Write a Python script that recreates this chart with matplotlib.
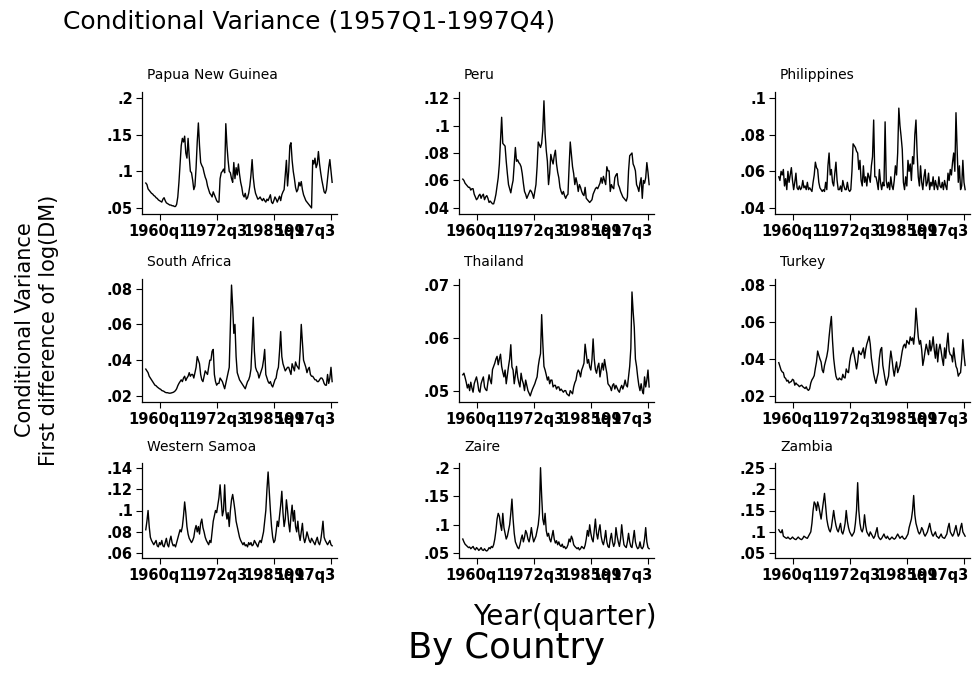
import numpy as np
import matplotlib.pyplot as plt

# quarterly conditional variance, 1957q1 .. 1997q4 (164 obs per country)
countries = ["Papua New Guinea", "Peru", "Philippines",
             "South Africa", "Thailand", "Turkey",
             "Western Samoa", "Zaire", "Zambia"]

papua = [
    .084, .082, .076, .074, .072, .070, .069, .067,
    .066, .064, .063, .061, .060, .059, .058, .062,
    .064, .060, .057, .056, .055, .054, .054, .053,
    .053, .052, .052, .055, .065, .085, .110, .135,
    .145, .140, .148, .125, .118, .145, .120, .100,
    .098, .088, .075, .080, .105, .140, .166, .135,
    .112, .108, .105, .098, .092, .088, .080, .075,
    .070, .068, .065, .072, .068, .064, .060, .058,
    .058, .090, .098, .100, .103, .098, .165, .135,
    .115, .100, .098, .090, .085, .112, .090, .105,
    .095, .110, .096, .085, .078, .068, .065, .070,
    .062, .064, .070, .080, .095, .116, .092, .078,
    .070, .066, .062, .063, .065, .062, .060, .063,
    .060, .058, .062, .060, .064, .068, .058, .056,
    .060, .065, .062, .058, .062, .066, .060, .068,
    .072, .075, .095, .115, .080, .100, .135, .139,
    .115, .100, .090, .078, .072, .075, .085, .080,
    .086, .075, .068, .064, .060, .058, .056, .054,
    .052, .050, .115, .110, .118, .105, .110, .127,
    .110, .098, .088, .080, .072, .070, .075, .090,
    .105, .116, .100, .085]

peru = [
    .061, .060, .058, .057, .056, .055, .055, .053,
    .054, .054, .050, .048, .046, .047, .049, .050,
    .047, .049, .050, .046, .048, .049, .047, .044,
    .045, .044, .043, .043, .046, .050, .056, .062,
    .072, .089, .106, .087, .086, .085, .074, .065,
    .057, .054, .051, .056, .060, .072, .084, .074,
    .075, .073, .072, .070, .065, .058, .052, .050,
    .047, .049, .051, .053, .052, .050, .047, .052,
    .057, .070, .088, .086, .084, .087, .097, .118,
    .094, .082, .074, .057, .065, .079, .075, .072,
    .078, .082, .072, .066, .062, .055, .052, .050,
    .052, .049, .047, .049, .050, .070, .088, .079,
    .070, .065, .057, .062, .058, .052, .057, .055,
    .052, .050, .049, .055, .047, .046, .045, .044,
    .045, .046, .050, .052, .054, .055, .054, .056,
    .058, .062, .058, .063, .060, .057, .070, .067,
    .067, .052, .057, .055, .054, .062, .064, .065,
    .057, .055, .052, .050, .048, .047, .046, .045,
    .048, .067, .078, .079, .080, .072, .070, .067,
    .057, .055, .052, .058, .062, .047, .060, .058,
    .062, .073, .066, .057]

philippines = [
    .057, .055, .060, .058, .061, .052, .056, .050,
    .060, .054, .058, .062, .055, .050, .054, .059,
    .051, .050, .052, .050, .051, .055, .051, .052,
    .050, .054, .050, .051, .050, .049, .054, .058,
    .065, .062, .061, .054, .051, .050, .049, .050,
    .049, .054, .050, .063, .070, .058, .061, .054,
    .052, .059, .065, .055, .050, .050, .052, .049,
    .055, .052, .050, .050, .054, .050, .049, .050,
    .060, .075, .074, .073, .071, .070, .061, .066,
    .055, .052, .063, .054, .057, .052, .059, .057,
    .054, .063, .068, .088, .057, .057, .054, .050,
    .061, .054, .050, .054, .052, .087, .055, .051,
    .054, .050, .057, .052, .050, .055, .063, .058,
    .070, .0945, .085, .079, .072, .054, .050, .057,
    .052, .066, .060, .064, .055, .068, .064, .080,
    .088, .070, .057, .052, .063, .054, .050, .057,
    .061, .052, .054, .059, .050, .054, .052, .057,
    .050, .055, .052, .050, .057, .052, .051, .054,
    .050, .055, .052, .050, .059, .055, .061, .058,
    .065, .070, .060, .092, .072, .054, .063, .050,
    .052, .066, .054, .050]

south_africa = [
    .035, .034, .033, .031, .030, .029, .028, .027,
    .026, .0257, .025, .0245, .024, .0237, .023, .0228,
    .0225, .022, .0218, .0218, .0216, .0215, .0216, .0218,
    .022, .0224, .023, .024, .0257, .027, .028, .029,
    .028, .030, .031, .0286, .030, .031, .033, .031,
    .032, .032, .030, .033, .036, .042, .040, .038,
    .032, .029, .028, .031, .034, .033, .032, .036,
    .040, .040, .045, .046, .032, .028, .026, .027,
    .027, .030, .029, .028, .026, .024, .027, .030,
    .033, .036, .060, .082, .070, .055, .060, .042,
    .033, .031, .029, .028, .027, .026, .025, .024,
    .026, .028, .029, .031, .035, .050, .064, .045,
    .036, .034, .033, .030, .032, .034, .036, .040,
    .046, .032, .030, .028, .027, .028, .026, .025,
    .027, .029, .030, .034, .036, .045, .056, .042,
    .038, .036, .034, .035, .036, .036, .034, .032,
    .038, .036, .034, .039, .037, .036, .035, .045,
    .060, .050, .040, .038, .036, .033, .035, .036,
    .032, .031, .031, .030, .029, .029, .028, .028,
    .029, .030, .030, .029, .027, .026, .026, .032,
    .027, .030, .036, .028]

thailand = [
    .0530, .0533, .0525, .0516, .0505, .0512, .0500, .0516,
    .0505, .0497, .0513, .0520, .0526, .0515, .0500, .0497,
    .0513, .0520, .0526, .0507, .0502, .0500, .0516, .0530,
    .0520, .0513, .0540, .0546, .0552, .0560, .0565, .0549,
    .0560, .0569, .0546, .0535, .0526, .0539, .0513, .0530,
    .0546, .0560, .0587, .0545, .0539, .0513, .0530, .0546,
    .0526, .0515, .0507, .0533, .0520, .0513, .0500, .0520,
    .0510, .0500, .0495, .0490, .0497, .0503, .0508, .0513,
    .0520, .0526, .0546, .0560, .0570, .0644, .0590, .0546,
    .0539, .0530, .0520, .0526, .0513, .0520, .0520, .0507,
    .0510, .0510, .0503, .0507, .0507, .0500, .0503, .0500,
    .0497, .0500, .0500, .0494, .0492, .0490, .0500, .0497,
    .0494, .0507, .0515, .0520, .0533, .0539, .0535, .0526,
    .0539, .0545, .0552, .0588, .0570, .0552, .0559, .0545,
    .0539, .0559, .0598, .0560, .0540, .0533, .0545, .0552,
    .0526, .0540, .0552, .0539, .0559, .0545, .0533, .0513,
    .0510, .0507, .0500, .0510, .0513, .0503, .0510, .0505,
    .0500, .0497, .0505, .0510, .0503, .0510, .0520, .0510,
    .0507, .0526, .0546, .0580, .0687, .0650, .0620, .0560,
    .0546, .0526, .0510, .0500, .0513, .0500, .0494, .0526,
    .0507, .0520, .0539, .0507]

turkey = [
    .038, .036, .034, .033, .0326, .030, .0295, .028,
    .0285, .027, .0275, .0278, .029, .0285, .0258, .027,
    .0262, .0258, .025, .0255, .0258, .025, .0245, .024,
    .0249, .0235, .023, .0239, .027, .0287, .0297, .031,
    .035, .0384, .0443, .042, .040, .0384, .034, .0326,
    .0365, .039, .0414, .045, .052, .058, .063, .050,
    .0404, .035, .0307, .029, .0287, .0297, .029, .0287,
    .0317, .030, .0297, .0346, .033, .0326, .0384, .042,
    .0435, .0462, .042, .0385, .0346, .0384, .0443, .043,
    .0423, .044, .046, .0404, .045, .048, .050, .0523,
    .048, .0404, .036, .032, .029, .0268, .030, .0326,
    .0404, .045, .0462, .0365, .0326, .029, .0258, .0285,
    .0307, .0384, .0443, .040, .0346, .0307, .035, .0384,
    .0326, .0345, .0365, .0404, .0443, .047, .048, .046,
    .050, .049, .048, .052, .050, .0514, .048, .055,
    .0675, .060, .052, .048, .050, .045, .0365, .040,
    .0443, .048, .045, .0423, .050, .0443, .047, .052,
    .045, .0404, .048, .0384, .045, .048, .0443, .040,
    .0365, .046, .0404, .048, .054, .0443, .0423, .042,
    .0384, .046, .0404, .036, .0346, .0307, .0320, .0326,
    .040, .0505, .0423, .0365]

western_samoa = [
    .082, .090, .100, .085, .075, .072, .070, .068,
    .070, .072, .067, .066, .070, .068, .072, .067,
    .066, .070, .074, .068, .066, .072, .076, .070,
    .067, .068, .066, .070, .074, .078, .082, .080,
    .085, .095, .108, .098, .085, .078, .074, .072,
    .070, .072, .075, .082, .086, .080, .085, .078,
    .088, .092, .084, .080, .075, .072, .070, .068,
    .072, .070, .080, .090, .095, .100, .098, .105,
    .112, .124, .110, .095, .100, .124, .100, .092,
    .098, .085, .100, .110, .115, .108, .100, .090,
    .085, .080, .075, .072, .070, .068, .070, .067,
    .068, .066, .070, .068, .070, .067, .068, .072,
    .070, .068, .066, .070, .072, .070, .075, .080,
    .090, .100, .120, .136, .118, .100, .085, .075,
    .070, .072, .080, .090, .085, .095, .105, .118,
    .098, .085, .092, .110, .100, .088, .080, .095,
    .105, .090, .100, .085, .080, .090, .078, .072,
    .080, .088, .075, .070, .074, .080, .076, .072,
    .070, .074, .072, .070, .068, .072, .075, .070,
    .068, .072, .080, .090, .075, .072, .070, .068,
    .070, .072, .068, .067]

zaire = [
    .075, .070, .066, .064, .062, .060, .061, .058,
    .060, .062, .058, .056, .060, .058, .055, .057,
    .060, .056, .055, .058, .055, .054, .056, .060,
    .058, .062, .060, .065, .075, .090, .110, .120,
    .115, .100, .090, .120, .095, .085, .075, .080,
    .090, .100, .120, .145, .110, .085, .070, .065,
    .060, .058, .065, .075, .082, .070, .078, .090,
    .085, .075, .070, .080, .095, .080, .070, .075,
    .080, .090, .100, .120, .200, .150, .110, .100,
    .120, .090, .080, .085, .075, .070, .080, .090,
    .075, .068, .072, .065, .070, .064, .062, .066,
    .060, .062, .058, .060, .065, .075, .070, .080,
    .075, .065, .062, .060, .058, .060, .056, .058,
    .062, .060, .058, .064, .075, .090, .080, .100,
    .085, .075, .070, .090, .110, .085, .075, .090,
    .100, .080, .070, .065, .075, .090, .070, .062,
    .060, .075, .085, .070, .062, .068, .095, .080,
    .070, .062, .075, .100, .080, .065, .062, .060,
    .070, .085, .070, .062, .060, .075, .090, .070,
    .062, .058, .060, .070, .060, .058, .062, .075,
    .095, .070, .060, .058]

zambia = [
    .105, .100, .098, .105, .090, .088, .086, .085,
    .088, .085, .083, .085, .088, .085, .083, .082,
    .085, .088, .085, .083, .082, .085, .090, .088,
    .086, .085, .090, .095, .100, .120, .150, .170,
    .165, .150, .170, .160, .145, .130, .150, .170,
    .190, .160, .130, .115, .105, .100, .110, .130,
    .150, .130, .115, .105, .100, .110, .120, .100,
    .095, .105, .120, .150, .125, .110, .100, .095,
    .090, .095, .100, .120, .150, .215, .150, .120,
    .105, .100, .110, .140, .115, .100, .095, .090,
    .100, .095, .090, .085, .090, .100, .110, .090,
    .085, .082, .085, .090, .095, .088, .085, .090,
    .085, .082, .085, .088, .085, .083, .085, .090,
    .095, .090, .085, .088, .090, .085, .083, .085,
    .090, .095, .110, .120, .130, .150, .185, .140,
    .120, .110, .100, .095, .100, .110, .105, .095,
    .090, .095, .100, .110, .120, .105, .095, .090,
    .095, .100, .090, .088, .085, .090, .095, .088,
    .086, .085, .090, .095, .110, .120, .100, .095,
    .090, .095, .105, .115, .100, .090, .095, .110,
    .120, .100, .095, .090]

series = [papua, peru, philippines, south_africa, thailand, turkey,
          western_samoa, zaire, zambia]

yticks = [[.05, .1, .15, .2], [.04, .06, .08, .1, .12], [.04, .06, .08, .1],
          [.02, .04, .06, .08], [.05, .06, .07], [.02, .04, .06, .08],
          [.06, .08, .1, .12, .14], [.05, .1, .15, .2], [.05, .1, .15, .2, .25]]

xtick_pos = [1960.0, 1972.5, 1985.0, 1997.5]
xtick_lab = ["1960q1", "1972q3", "1985q1", "1997q3"]


def fmt(v):
    s = "%g" % v
    return s[1:] if s.startswith("0.") else s


W, H = 974, 694
plt.rcParams['font.family'] = ['DejaVu Sans']
fig = plt.figure(figsize=(W / 100, H / 100), dpi=100)
fig.patch.set_facecolor("white")

# panel geometry in pixels
col_left = [142, 459, 775]
row_top = [92, 279, 463]
row_bot = [214, 402, 558]
title_y = [75, 262, 447]
ax_w = 195
px_per_year = 4.573
x_lo = 1960.0 - 17.5 / px_per_year
x_hi = x_lo + ax_w / px_per_year

tick_font = dict(fontsize=10.5, fontweight="bold")

for k, (name, vals, ticks) in enumerate(zip(countries, series, yticks)):
    r, c = divmod(k, 3)
    left, top, bot = col_left[c], row_top[r], row_bot[r]
    ax = fig.add_axes([left / W, 1 - bot / H, ax_w / W, (bot - top) / H])
    v = np.array(vals)
    t = 1957 + np.arange(len(v)) / 4.0
    ax.plot(t, v, color="black", lw=1.0)

    lo = min(v.min(), ticks[0])
    hi = max(v.max(), ticks[-1])
    pad = 0.055 * (hi - lo)
    ax.set_ylim(lo - pad, hi + pad)
    ax.set_xlim(x_lo, x_hi)

    for side in ["top", "right"]:
        ax.spines[side].set_visible(False)
    for side in ["left", "bottom"]:
        ax.spines[side].set_linewidth(0.9)
        ax.spines[side].set_color("black")

    ax.set_yticks(ticks)
    ax.set_yticklabels([fmt(x) for x in ticks], **tick_font)
    ax.set_xticks(xtick_pos)
    ax.set_xticklabels([])
    ax.tick_params(axis="both", direction="out", length=4.5, width=0.8,
                   colors="black", pad=2)
    ax.patch.set_alpha(0)

    # quarter labels; the last one is pulled back inside the axis end
    for j, (xp, lab) in enumerate(zip(xtick_pos, xtick_lab)):
        last = j == len(xtick_pos) - 1
        ax.annotate(lab, xy=(xp, 0), xycoords=("data", "axes fraction"),
                    xytext=(5 if last else 0, -10), textcoords="offset pixels",
                    ha="right" if last else "center", va="top", **tick_font)

    fig.text((left + 5) / W, 1 - title_y[r] / H, name, ha="left",
             va="center", fontsize=10)

fig.text(63 / W, 1 - 22 / H, "Conditional Variance (1957Q1-1997Q4)",
         ha="left", va="center", fontsize=18)
fig.text(37 / W, 1 - 330 / H, "Conditional Variance\nFirst difference of log(DM)",
         rotation=90, ha="center", va="center", fontsize=15, linespacing=1.25)
fig.text(565 / W, 1 - 617 / H, "Year(quarter)", ha="center", va="center",
         fontsize=20)
fig.text(506 / W, 1 - 648 / H, "By Country", ha="center", va="center",
         fontsize=25.5)

fig.savefig("out.png", dpi=100, facecolor="white")
